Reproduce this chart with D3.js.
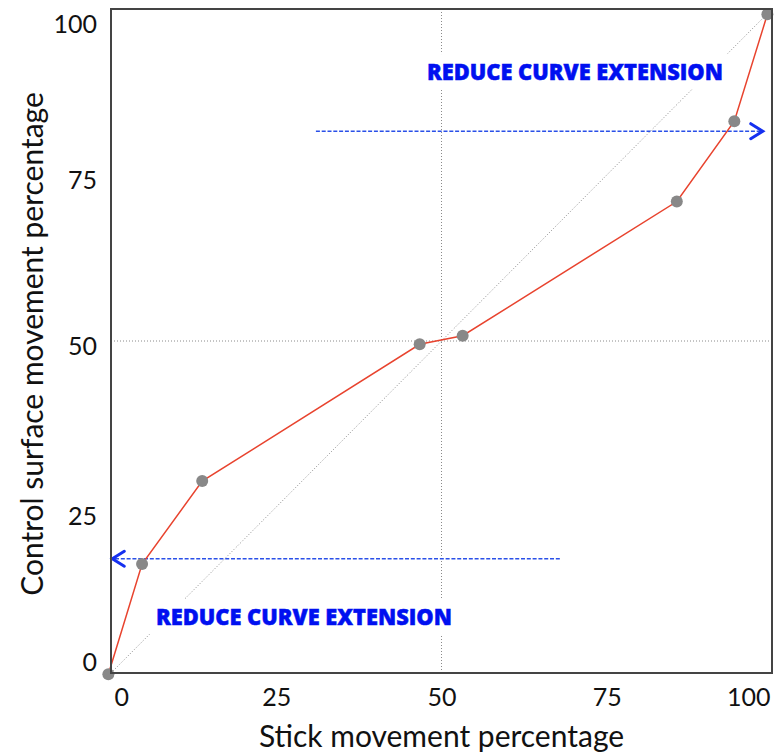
<!DOCTYPE html>
<html>
<head>
<meta charset="utf-8">
<script src="https://cdn.jsdelivr.net/npm/d3@7"></script>
<style>
  html, body { margin: 0; padding: 0; background: #fff; }
  svg { display: block; }
</style>
</head>
<body>
<svg id="chart" width="781" height="753"></svg>
<script>
// ---- data ----
const stickPct   = [-0.4, 4.7, 13.8, 46.7, 53.2, 85.6, 94.3, 99.3];
const surfacePct = [-0.2, 16.4, 28.9, 49.5, 50.8, 71.0, 83.1, 99.2];
const xTicks = [0, 25, 50, 75, 100];
const yTicks = [0, 25, 50, 75, 100];
const xTitle = "Stick movement percentage";
const yTitle = "Control surface movement percentage";
const annotationLabels = ["REDUCE CURVE EXTENSION", "REDUCE CURVE EXTENSION"];
const annotationX = [6.8, 47.8];
const annotationY = [7.2, 89.3];
const arrowY     = [17.2, 81.6];
const arrowFrom  = [67.9, 31.0];
const arrowTo    = [0.2, 98.6];

(function () {
// ---- layout ----
const svg = d3.select("#chart");
const pLeft = 111, pTop = 9, pWidth = 661, pHeight = 664;
const x = d3.scaleLinear().domain([0, 100]).range([pLeft, pLeft + pWidth]);
const y = d3.scaleLinear().domain([0, 100]).range([pTop + pHeight, pTop]);

const g = svg.append("g");
const guide = "#8a8a8a";

// center dotted guide lines
g.append("line")
  .attr("x1", x(50)).attr("x2", x(50)).attr("y1", y(0)).attr("y2", y(100))
  .attr("stroke", guide).attr("stroke-width", 1).attr("stroke-dasharray", "1,2");
g.append("line")
  .attr("x1", x(0)).attr("x2", x(100)).attr("y1", y(50)).attr("y2", y(50))
  .attr("stroke", guide).attr("stroke-width", 1).attr("stroke-dasharray", "1,2");
// diagonal reference (linear response)
g.append("line")
  .attr("x1", x(0)).attr("y1", y(0)).attr("x2", x(100)).attr("y2", y(100))
  .attr("stroke", guide).attr("stroke-width", 1).attr("stroke-dasharray", "1,2");

// annotation boxes (white background hides guides)
const annG = g.append("g");
annotationLabels.forEach((t, i) => {
  const txt = annG.append("text")
    .attr("x", x(annotationX[i])).attr("y", y(annotationY[i]))
    .attr("font-family", "'Open Sans', sans-serif")
    .attr("font-weight", 800)
    .attr("font-size", 22.5)
    .attr("fill", "#0010f0")
    .attr("stroke", "#0010f0").attr("stroke-width", 0.5)
    .attr("textLength", 296).attr("lengthAdjust", "spacingAndGlyphs")
    .text(t);
  const bb = txt.node().getBBox();
  annG.insert("rect", "text")
    .attr("x", bb.x - 11).attr("y", bb.y - 2)
    .attr("width", bb.width + 22).attr("height", bb.height + 4)
    .attr("fill", "#fff");
});

// dashed arrows
arrowY.forEach((v, i) => {
  g.append("line")
    .attr("x1", x(arrowFrom[i])).attr("x2", x(arrowTo[i]))
    .attr("y1", y(v)).attr("y2", y(v))
    .attr("stroke", "#2a50e8").attr("stroke-width", 1.6)
    .attr("stroke-dasharray", "4,1.8");
  const dir = arrowTo[i] > arrowFrom[i] ? 1 : -1;
  const tx = x(arrowTo[i]), ty = y(v);
  g.append("path")
    .attr("d", d3.line()([[tx - dir * 12, ty - 7.5], [tx, ty], [tx - dir * 12, ty + 7.5]]))
    .attr("fill", "none").attr("stroke", "#1530f0").attr("stroke-width", 3)
    .attr("stroke-linecap", "round").attr("stroke-linejoin", "miter");
});

// response curve
const pts = stickPct.map((s, i) => [s, surfacePct[i]]);
g.append("path")
  .datum(pts)
  .attr("d", d3.line().x(d => x(d[0])).y(d => y(d[1])))
  .attr("fill", "none").attr("stroke", "#e8432e").attr("stroke-width", 1.5);

g.selectAll("circle.pt").data(pts).join("circle")
  .attr("class", "pt")
  .attr("cx", d => x(d[0])).attr("cy", d => y(d[1]))
  .attr("r", 6).attr("fill", "#888");

// frame
g.append("rect")
  .attr("x", pLeft).attr("y", pTop).attr("width", pWidth).attr("height", pHeight)
  .attr("fill", "none").attr("stroke", "#444").attr("stroke-width", 2);

// axes (labels only)
const fontTick = "Lato, 'Open Sans', sans-serif";
const xAxis = d3.axisBottom(x).tickValues(xTicks).tickSize(0).tickPadding(0).tickFormat(d3.format("d"));
const xa = svg.append("g").attr("transform", `translate(0,${pTop + pHeight})`).call(xAxis);
xa.select(".domain").remove();
xa.selectAll("text")
  .attr("font-family", fontTick).attr("font-size", 25).attr("fill", "#111")
  .attr("dy", "1.3em")
  .attr("text-anchor", d => d === 0 ? "start" : d === 100 ? "end" : "middle")
  .attr("x", d => d === 0 ? 3 : d === 100 ? -2 : 0);

const yAxis = d3.axisLeft(y).tickValues(yTicks).tickSize(0).tickPadding(14).tickFormat(d3.format("d"));
const ya = svg.append("g").attr("transform", `translate(${pLeft},0)`).call(yAxis);
ya.select(".domain").remove();
ya.selectAll("text")
  .attr("font-family", fontTick).attr("font-size", 25).attr("fill", "#111")
  .attr("dy", d => d === 100 ? "0.95em" : d === 0 ? "-0.12em" : d === 25 ? "0.7em" : "0.52em");

// titles
svg.append("text")
  .attr("x", x(50)).attr("y", 747)
  .attr("text-anchor", "middle")
  .attr("font-family", fontTick).attr("font-size", 30).attr("fill", "#111")
  .text(xTitle);
svg.append("text")
  .attr("transform", `translate(43,${y(50) + 3}) rotate(-90)`)
  .attr("text-anchor", "middle")
  .attr("font-family", fontTick).attr("font-size", 30).attr("fill", "#111")
  .text(yTitle);
})();
</script>
</body>
</html>
